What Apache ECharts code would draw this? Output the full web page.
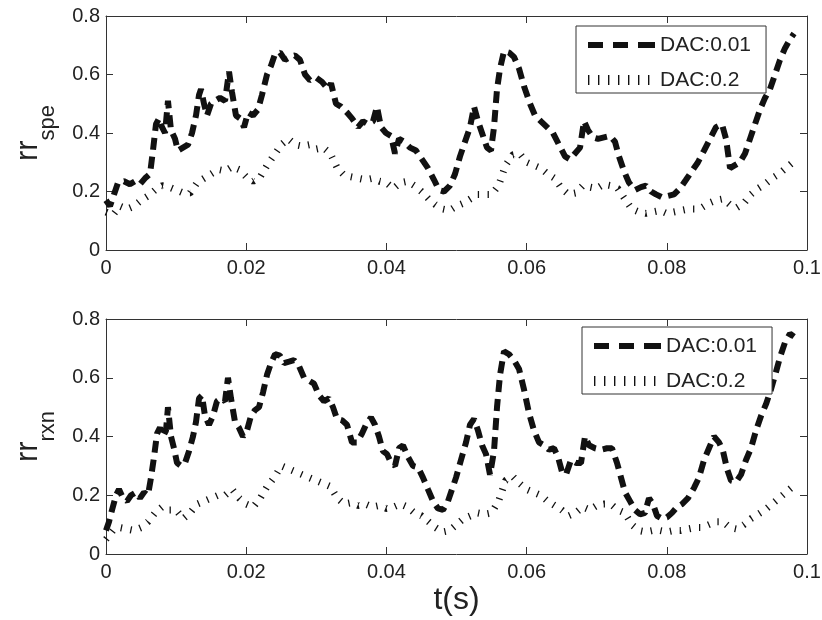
<!DOCTYPE html>
<html>
<head>
<meta charset="utf-8">
<script src="https://cdn.jsdelivr.net/npm/echarts@6/dist/echarts.min.js"></script>
<style>
html,body{margin:0;padding:0;background:#fff;}
#chart{width:822px;height:620px;}
</style>
</head>
<body>
<div id="chart"></div>
<script>
// ---------------- data (time in ms, value) ----------------
const seriesNames = ['DAC:0.01', 'DAC:0.2'];
const xTickValues = [0, 0.02, 0.04, 0.06, 0.08, 0.1];
const yTickValues = [0, 0.2, 0.4, 0.6, 0.8];

// top panel: rr_spe, DAC:0.01 (dashed)
const speDac001 = [
[0,0.17],[0.57,0.15],[1.14,0.19],[1.71,0.23],[2.57,0.235],[3.42,0.225],[4.14,0.235],[4.85,0.225],[5.56,0.245],[6.28,0.26],
[6.70,0.34],[7.13,0.43],[7.56,0.45],[7.99,0.42],[8.42,0.40],[8.84,0.51],[9.27,0.41],[9.84,0.38],[10.27,0.34],[10.98,0.35],
[11.70,0.36],[12.27,0.40],[12.84,0.46],[13.27,0.53],[13.55,0.55],[13.98,0.50],[14.41,0.46],[14.98,0.50],[15.55,0.51],[16.26,0.52],
[16.98,0.51],[17.55,0.61],[17.97,0.54],[18.54,0.46],[19.12,0.45],[19.69,0.42],[20.26,0.47],[20.97,0.46],[21.68,0.48],[22.25,0.53],
[22.97,0.60],[23.54,0.63],[24.11,0.67],[24.82,0.675],[25.53,0.65],[26.25,0.66],[26.96,0.665],[27.67,0.65],[28.39,0.60],[29.10,0.58],
[29.96,0.59],[30.81,0.575],[31.67,0.55],[32.10,0.57],[32.81,0.50],[33.52,0.49],[34.38,0.47],[35.09,0.45],[35.95,0.42],[36.66,0.44],
[37.38,0.43],[38.09,0.44],[38.66,0.49],[39.23,0.42],[39.94,0.40],[40.66,0.39],[41.23,0.33],[41.80,0.38],[42.51,0.37],[43.37,0.35],
[44.22,0.34],[45.08,0.31],[45.93,0.28],[46.79,0.24],[47.50,0.205],[48.22,0.20],[49.07,0.22],[49.79,0.26],[50.50,0.32],[51.21,0.37],
[51.93,0.42],[52.50,0.49],[53.07,0.44],[53.64,0.40],[54.35,0.35],[54.92,0.34],[55.35,0.42],[55.78,0.55],[56.21,0.62],[56.78,0.68],
[57.49,0.675],[58.20,0.66],[58.92,0.62],[59.63,0.56],[60.49,0.50],[61.20,0.46],[62.05,0.44],[62.91,0.42],[63.77,0.40],[64.62,0.36],
[65.48,0.32],[66.19,0.31],[66.90,0.33],[67.62,0.35],[68.19,0.44],[68.76,0.41],[69.47,0.385],[70.19,0.38],[71.04,0.385],[71.90,0.39],
[72.61,0.37],[73.18,0.32],[73.89,0.27],[74.61,0.23],[75.46,0.205],[76.32,0.215],[77.03,0.22],[77.75,0.20],[78.46,0.19],[79.32,0.18],
[80.17,0.185],[81.03,0.19],[81.88,0.21],[82.74,0.24],[83.59,0.27],[84.45,0.30],[85.31,0.34],[86.16,0.38],[87.02,0.42],[87.87,0.43],
[88.45,0.38],[89.02,0.28],[89.73,0.29],[90.44,0.30],[91.16,0.33],[91.87,0.38],[92.58,0.43],[93.30,0.48],[94.01,0.52],[94.72,0.55],
[95.44,0.60],[96.15,0.65],[96.86,0.69],[97.57,0.72],[98.15,0.74]
];

// top panel: rr_spe, DAC:0.2 (dotted)
const speDac02 = [
[0,0.13],[1,0.12],[2,0.15],[3,0.14],[4,0.15],[5,0.17],[6,0.185],[7,0.205],[8,0.22],[9,0.215],
[10,0.205],[11,0.195],[12,0.195],[13,0.23],[14,0.245],[15,0.26],[16,0.275],[17,0.27],[18,0.285],[19,0.275],
[20,0.25],[21,0.235],[22,0.25],[23,0.29],[24,0.325],[25,0.36],[26,0.38],[27,0.36],[28,0.355],[29,0.36],
[30,0.345],[31,0.35],[32,0.33],[33,0.28],[34,0.255],[35,0.25],[36,0.245],[37,0.24],[38,0.245],[39,0.235],
[40,0.23],[41,0.21],[42,0.23],[43,0.235],[44,0.22],[45,0.20],[46,0.175],[47,0.155],[48,0.14],[49,0.135],
[50,0.15],[51,0.16],[52,0.175],[53,0.19],[54,0.19],[55,0.19],[56,0.22],[57,0.29],[58,0.325],[59,0.33],
[60,0.30],[61,0.29],[62,0.28],[63,0.26],[64,0.245],[65,0.21],[66,0.19],[67,0.195],[68,0.22],[69,0.215],
[70,0.21],[71,0.225],[72,0.22],[73,0.21],[74,0.175],[75,0.14],[76,0.13],[77,0.125],[78,0.13],[79,0.135],
[80,0.125],[81,0.13],[82,0.135],[83,0.14],[84,0.14],[85,0.145],[86,0.16],[87,0.17],[88,0.175],[89,0.155],
[90,0.145],[91,0.16],[92,0.19],[93,0.21],[94,0.225],[95,0.245],[96,0.26],[97,0.28],[98,0.30]
];

// bottom panel: rr_rxn, DAC:0.01 (dashed)
const rxnDac001 = [
[0,0.08],[0.43,0.11],[0.86,0.15],[1.43,0.20],[1.85,0.22],[2.43,0.19],[3.00,0.18],[3.57,0.20],[4.28,0.21],[4.85,0.19],
[5.42,0.21],[5.99,0.20],[6.42,0.26],[6.85,0.33],[7.28,0.41],[7.70,0.43],[8.13,0.40],[8.56,0.42],[8.84,0.50],[9.27,0.40],
[9.70,0.36],[10.13,0.31],[10.70,0.30],[11.27,0.31],[11.84,0.35],[12.41,0.40],[12.84,0.45],[13.27,0.53],[13.69,0.54],[14.12,0.47],
[14.69,0.44],[15.26,0.47],[15.83,0.52],[16.41,0.53],[16.98,0.52],[17.40,0.60],[17.83,0.53],[18.40,0.45],[18.97,0.43],[19.54,0.40],
[20.11,0.42],[20.68,0.47],[21.26,0.49],[21.83,0.50],[22.40,0.55],[22.97,0.61],[23.54,0.65],[24.11,0.68],[24.82,0.675],[25.39,0.65],
[26.11,0.655],[26.82,0.66],[27.53,0.64],[28.25,0.60],[28.96,0.59],[29.67,0.58],[30.39,0.54],[31.10,0.52],[31.81,0.53],[32.38,0.50],
[32.95,0.46],[33.67,0.455],[34.38,0.44],[35.09,0.38],[35.81,0.38],[36.52,0.41],[37.09,0.44],[37.80,0.465],[38.37,0.44],[38.94,0.40],
[39.51,0.35],[40.09,0.34],[40.66,0.31],[41.23,0.30],[41.80,0.36],[42.37,0.37],[43.08,0.33],[43.79,0.30],[44.51,0.295],[45.22,0.26],
[45.93,0.22],[46.65,0.18],[47.36,0.155],[48.07,0.15],[48.79,0.18],[49.36,0.22],[49.93,0.26],[50.64,0.32],[51.36,0.38],[51.93,0.44],
[52.50,0.46],[53.07,0.42],[53.64,0.37],[54.21,0.34],[54.78,0.27],[55.35,0.35],[55.78,0.50],[56.21,0.61],[56.78,0.69],[57.49,0.68],
[58.20,0.66],[58.92,0.63],[59.63,0.56],[60.34,0.48],[61.06,0.42],[61.77,0.38],[62.48,0.37],[63.20,0.355],[63.91,0.36],[64.48,0.33],
[65.05,0.28],[65.62,0.27],[66.33,0.32],[67.05,0.31],[67.76,0.31],[68.33,0.40],[68.90,0.37],[69.76,0.36],[70.61,0.355],[71.47,0.36],
[72.18,0.36],[72.90,0.31],[73.47,0.26],[74.04,0.21],[74.75,0.18],[75.46,0.15],[76.18,0.135],[76.89,0.14],[77.46,0.19],[78.03,0.17],
[78.60,0.13],[79.32,0.12],[80.03,0.125],[80.74,0.14],[81.46,0.16],[82.17,0.17],[83.02,0.19],[83.88,0.225],[84.59,0.26],[85.31,0.32],
[86.02,0.36],[86.73,0.40],[87.45,0.38],[88.02,0.35],[88.59,0.29],[89.16,0.25],[89.87,0.245],[90.58,0.27],[91.30,0.32],[92.01,0.36],
[92.72,0.42],[93.44,0.47],[94.15,0.51],[94.86,0.56],[95.58,0.62],[96.15,0.67],[96.86,0.72],[97.57,0.75],[98.15,0.74]
];

// bottom panel: rr_rxn, DAC:0.2 (dotted)
const rxnDac02 = [
[0,0.05],[1,0.08],[2,0.09],[3,0.085],[4,0.08],[5,0.09],[6,0.11],[7,0.14],[8,0.16],[9,0.15],
[10,0.15],[11,0.12],[12,0.14],[13,0.17],[14,0.18],[15,0.19],[16,0.20],[17,0.20],[18,0.22],[19,0.19],
[20,0.17],[21,0.16],[22,0.19],[23,0.23],[24,0.26],[25,0.30],[26,0.29],[27,0.28],[28,0.27],[29,0.26],
[30,0.25],[31,0.24],[32,0.23],[33,0.19],[34,0.17],[35,0.175],[36,0.165],[37,0.17],[38,0.16],[39,0.165],
[40,0.155],[41,0.16],[42,0.17],[43,0.16],[44,0.14],[45,0.13],[46,0.11],[47,0.09],[48,0.075],[49,0.08],
[50,0.10],[51,0.12],[52,0.13],[53,0.14],[54,0.135],[55,0.14],[56,0.18],[57,0.25],[58,0.265],[59,0.24],
[60,0.22],[61,0.21],[62,0.20],[63,0.18],[64,0.165],[65,0.15],[66,0.13],[67,0.14],[68,0.16],[69,0.15],
[70,0.165],[71,0.17],[72,0.17],[73,0.15],[74,0.14],[75,0.10],[76,0.08],[77,0.075],[78,0.08],[79,0.08],
[80,0.075],[81,0.08],[82,0.08],[83,0.085],[84,0.09],[85,0.09],[86,0.10],[87,0.11],[88,0.11],[89,0.09],
[90,0.085],[91,0.10],[92,0.12],[93,0.135],[94,0.15],[95,0.17],[96,0.19],[97,0.21],[98,0.23]
];

// ---------------- chart ----------------
const toSeconds = arr => arr.map(p => [p[0] / 1000, p[1]]);
const FONT = '"Liberation Sans", Arial, Helvetica, sans-serif';
const AX = '#333';
const TXT = '#222';

const xMin = xTickValues[0], xMax = xTickValues[xTickValues.length - 1];
const xStep = xTickValues[1] - xTickValues[0];
const yMin = yTickValues[0], yMax = yTickValues[yTickValues.length - 1];
const yStep = yTickValues[1] - yTickValues[0];

function xAxisDef(gridIndex, position, withLabels, name) {
  const a = {
    gridIndex, type: 'value', position, min: xMin, max: xMax, interval: xStep,
    axisLine: { show: true, onZero: false, lineStyle: { color: AX, width: 1 } },
    axisTick: { show: true, inside: true, length: 7, lineStyle: { color: AX, width: 1 } },
    axisLabel: {
      show: withLabels, fontSize: 20, fontFamily: FONT, color: TXT, margin: 8,
      formatter: v => String(+v.toFixed(2))
    },
    splitLine: { show: false }
  };
  if (name) {
    a.name = name;
    a.nameLocation = 'middle';
    a.nameGap = 30;
    a.nameMoveOverlap = false;
    a.nameTextStyle = { fontSize: 32, fontFamily: FONT, color: TXT };
  }
  return a;
}

function yAxisDef(gridIndex, position, withLabels, sub) {
  const a = {
    gridIndex, type: 'value', position, min: yMin, max: yMax, interval: yStep,
    axisLine: { show: true, onZero: false, lineStyle: { color: AX, width: 1 } },
    axisTick: { show: true, inside: true, length: 7, lineStyle: { color: AX, width: 1 } },
    axisLabel: {
      show: withLabels, fontSize: 20, fontFamily: FONT, color: TXT, margin: 6,
      formatter: v => String(+v.toFixed(1))
    },
    splitLine: { show: false }
  };
  if (sub) {
    a.name = '{m|rr}{s|' + sub + '}';
    a.nameLocation = 'middle';
    a.nameRotate = 90;
    a.nameGap = 47;
    a.nameMoveOverlap = false;
    a.nameTextStyle = {
      rich: {
        m: { fontSize: 31, fontFamily: FONT, color: TXT, lineHeight: 31, verticalAlign: 'top' },
        s: { fontSize: 22, fontFamily: FONT, color: TXT, lineHeight: 46, verticalAlign: 'bottom' }
      }
    };
  }
  return a;
}

const dashedStyle = { color: '#111', width: 6, type: [12, 7], cap: 'butt', join: 'bevel' };
const dottedStyle = { color: '#111', width: 7, type: [1.3, 8.5], cap: 'butt', join: 'bevel' };

// legend glyphs drawn like the reference: three thick dashes / a row of thin ticks
// (the leading "M0,0M67,14" fixes the glyph box to the full legend item box)
const dashedIcon = 'path://M0,0M67,14M0,4H15V10H0Z M25,4H40V10H25Z M50,4H67V10H50Z';
const dottedIcon = 'path://M0,0M67,14M0,2H1.4V12H0Z M10,2H11.4V12H10Z M20,2H21.4V12H20Z M30,2H31.4V12H30Z M40,2H41.4V12H40Z M50,2H51.4V12H50Z M60,2H61.4V12H60Z';

function lineSeries(name, data, axisIdx, style) {
  return {
    name, type: 'line', data: toSeconds(data),
    xAxisIndex: axisIdx, yAxisIndex: axisIdx,
    symbol: 'none', showSymbol: false, smooth: false,
    lineStyle: style, itemStyle: { color: '#111' },
    emphasis: { disabled: true }, silent: true
  };
}

function legendDef(left, top) {
  return {
    show: true, orient: 'vertical', left, top,
    padding: [8, 15, 2, 12],
    itemWidth: 67, itemHeight: 14, itemGap: 13,
    borderColor: AX, borderWidth: 1, backgroundColor: '#fff',
    selectedMode: false,
    textStyle: { fontSize: 21, fontFamily: FONT, color: TXT, lineHeight: 22 },
    data: [
      { name: seriesNames[0], icon: dashedIcon, itemStyle: { color: '#111' } },
      { name: seriesNames[1], icon: dottedIcon, itemStyle: { color: '#111' } }
    ]
  };
}

const chart = echarts.init(document.getElementById('chart'), null, { renderer: 'canvas' });
chart.setOption({
  animation: false,
  backgroundColor: '#fff',
  grid: [
    { left: 106, top: 16, width: 701, height: 234, containLabel: false, outerBoundsMode: 'none' },
    { left: 106, top: 319, width: 701, height: 235, containLabel: false, outerBoundsMode: 'none' }
  ],
  legend: [legendDef(576, 26), legendDef(582, 327)],
  xAxis: [
    xAxisDef(0, 'bottom', true),
    xAxisDef(0, 'top', false),
    xAxisDef(1, 'bottom', true, 't(s)'),
    xAxisDef(1, 'top', false)
  ],
  yAxis: [
    yAxisDef(0, 'left', true, 'spe'),
    yAxisDef(0, 'right', false),
    yAxisDef(1, 'left', true, 'rxn'),
    yAxisDef(1, 'right', false)
  ],
  series: [
    lineSeries(seriesNames[0], speDac001, 0, dashedStyle),
    lineSeries(seriesNames[1], speDac02, 0, dottedStyle),
    lineSeries(seriesNames[0], rxnDac001, 2, dashedStyle),
    lineSeries(seriesNames[1], rxnDac02, 2, dottedStyle)
  ]
});
</script>
</body>
</html>
